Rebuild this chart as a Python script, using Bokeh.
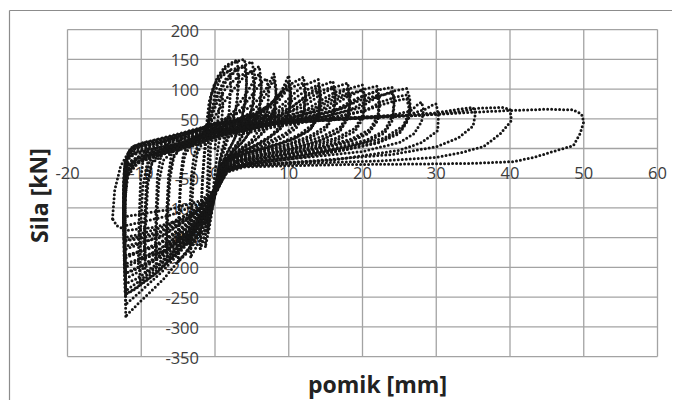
from bokeh.plotting import figure
from bokeh.models import ColumnDataSource, LabelSet
from bokeh.core.properties import value
from bokeh.embed import file_html
from bokeh.resources import INLINE

# axis ticks
x_ticks = [-20, -10, 0, 10, 20, 30, 40, 50, 60]
y_ticks = [-350, -300, -250, -200, -150, -100, -50, 0, 50, 100, 150, 200]
x_title = "pomik [mm]"
y_title = "Sila [kN]"

# hysteresis cycles: (displacement mm, force kN)
c01 = [(0, 0), (0.3, 40), (0.7, 80), (1.0, 95), (1.05, 70), (0.8, 30), (0.4, 0), (0.0, -40), (-0.4, -90),
       (-0.8, -125), (-1.0, -140)]
c02 = [(-1.0, -140), (-0.9, -90), (-0.7, -40), (-0.6, 0), (-0.6, 30), (-0.4, 60), (0.0, 95), (0.8, 120),
       (2.0, 132), (2.15, 105), (1.9, 60), (1.4, 20), (0.8, -10), (0.3, -45), (-0.2, -90), (-0.8, -135),
       (-1.3, -165)]
c03 = [(-1.3, -165), (-1.2, -110), (-1.0, -50), (-0.9, -5), (-0.9, 25), (-0.8, 55), (-0.5, 90), (0.3, 120),
       (1.5, 140), (3.0, 149), (3.2, 120), (3.0, 80), (2.4, 40), (1.6, 10), (0.9, -15), (0.4, -45),
       (-0.2, -90), (-1.0, -135), (-2.0, -168)]
c03b = [(-2.0, -168), (-1.9, -110), (-1.7, -55), (-1.5, -15), (-1.3, 15), (-1.1, 45), (-0.8, 78), (-0.2, 105),
        (1.0, 125), (2.2, 133), (3.0, 135), (3.2, 108), (2.9, 70), (2.2, 35), (1.4, 8), (0.7, -18),
        (0.2, -50), (-0.6, -100), (-1.4, -145), (-2.0, -168)]
c04 = [(-2.0, -168), (-1.9, -110), (-1.7, -50), (-1.4, -8), (-1.1, 22), (-0.9, 50), (-0.6, 85), (0.2, 115),
       (1.5, 136), (3.0, 147), (4.0, 150), (4.3, 125), (4.2, 90), (3.6, 50), (2.8, 20), (1.8, -5),
       (1.0, -25), (0.4, -55), (-0.3, -95), (-1.5, -140), (-2.5, -165), (-3.3, -182)]
c04b = [(-3.3, -182), (-3.2, -110), (-2.9, -45), (-2.4, -8), (-1.5, 15), (-0.9, 35), (-0.5, 60), (0.2, 90),
        (1.3, 115), (2.8, 132), (4.0, 138), (4.3, 112), (4.1, 75), (3.4, 38), (2.4, 10), (1.4, -12),
        (0.6, -35), (0.0, -75), (-1.0, -115), (-2.3, -145), (-3.5, -160)]
c05 = [(-3.5, -160), (-3.4, -100), (-3.2, -45), (-2.8, -8), (-1.8, 18), (-1.0, 40), (-0.4, 62), (0.4, 90),
       (1.6, 115), (3.2, 136), (5.0, 146), (5.4, 122), (5.3, 85), (4.6, 45), (3.6, 18), (2.5, -2),
       (1.3, -22), (0.5, -50), (-0.3, -95), (-1.8, -140), (-3.5, -172), (-5.0, -190)]
c05b = [(-5.0, -190), (-4.9, -115), (-4.6, -50), (-4.1, -12), (-3.0, 12), (-1.5, 30), (-0.6, 50), (0.3, 78),
        (1.5, 102), (3.2, 122), (5.0, 130), (5.3, 108), (5.1, 72), (4.3, 38), (3.2, 12), (2.0, -8),
        (1.0, -28), (0.3, -60), (-0.7, -105), (-2.5, -148), (-4.0, -176), (-5.0, -190)]
c06 = [(-5.0, -190), (-4.9, -120), (-4.7, -50), (-4.3, -10), (-3.3, 14), (-1.8, 32), (-0.3, 48), (0.8, 70),
       (2.2, 95), (4.0, 122), (6.0, 138), (6.3, 110), (6.1, 75), (5.3, 40), (4.0, 15), (2.5, -5),
       (1.2, -25), (0.4, -55), (-0.5, -95), (-2.5, -135), (-4.5, -165), (-6.5, -188)]
c06b = [(-6.5, -188), (-6.4, -110), (-6.1, -50), (-5.6, -15), (-4.5, 5), (-2.5, 20), (-0.5, 33), (1.0, 45),
        (2.5, 62), (4.0, 88), (5.2, 112), (6.0, 126), (6.3, 100), (6.1, 68), (5.2, 36), (3.8, 12),
        (2.2, -8), (1.0, -28), (0.3, -58), (-0.8, -100), (-3.0, -132), (-5.0, -152), (-6.6, -165)]
c06c = [(-6.6, -165), (-6.5, -95), (-6.2, -42), (-5.6, -12), (-4.2, 6), (-2.0, 22), (0.0, 36), (2.0, 50),
        (3.5, 66), (5.0, 90), (6.2, 110), (7.0, 118), (7.3, 95), (7.1, 64), (6.2, 34), (4.8, 12), (3.0, -4),
        (1.5, -20), (0.5, -45), (-0.5, -88), (-2.5, -125), (-4.8, -150), (-6.6, -165)]
c07 = [(-6.6, -165), (-6.5, -100), (-6.3, -45), (-5.9, -8), (-4.8, 14), (-3.0, 28), (-1.0, 38), (0.5, 46),
       (2.5, 56), (4.5, 68), (6.0, 84), (7.0, 102), (7.6, 116), (8.0, 126), (8.3, 100), (8.1, 70),
       (7.2, 40), (5.8, 18), (4.0, 2), (2.2, -12), (1.0, -28), (0.3, -60), (-0.8, -105), (-3.0, -145),
       (-5.5, -178), (-8.0, -200)]
c07b = [(-8.0, -200), (-7.9, -120), (-7.6, -55), (-7.0, -20), (-5.5, -2), (-3.0, 15), (0.0, 30), (2.5, 45),
        (4.5, 58), (6.0, 74), (7.0, 92), (7.6, 108), (8.0, 116), (8.3, 92), (8.1, 62), (7.0, 32),
        (5.3, 12), (3.5, -2), (1.8, -16), (0.8, -32), (0.1, -65), (-1.2, -110), (-3.5, -145),
        (-6.0, -168), (-8.1, -178)]
c08 = [(-8.1, -178), (-8.0, -110), (-7.8, -45), (-7.3, -10), (-6.3, 10), (-4.0, 24), (-2.0, 33), (0.0, 42),
       (3.0, 50), (5.5, 60), (7.5, 74), (9.0, 96), (9.6, 112), (10.0, 123), (10.3, 98), (10.1, 70),
       (9.2, 42), (7.6, 22), (5.5, 6), (3.0, -8), (1.3, -22), (0.4, -55), (-0.7, -100), (-3.0, -140),
       (-6.0, -178), (-9.5, -208)]
c08b = [(-9.5, -208), (-9.4, -125), (-9.1, -60), (-8.5, -22), (-7.0, -5), (-4.0, 12), (-1.0, 27), (2.0, 42),
        (4.5, 52), (6.5, 63), (8.3, 82), (9.5, 103), (10.0, 113), (10.3, 90), (10.1, 62), (9.0, 35),
        (7.2, 16), (5.0, 2), (2.6, -12), (1.1, -26), (0.2, -60), (-1.0, -105), (-3.5, -142), (-6.5, -170),
        (-9.6, -185)]
c08c = [(-9.6, -185), (-9.5, -110), (-9.2, -55), (-8.6, -25), (-7.0, -10), (-4.5, 5), (-1.5, 20), (1.5, 36),
        (4.0, 48), (6.5, 60), (8.5, 78), (9.6, 96), (10.0, 104), (10.3, 84), (10.0, 58), (8.8, 32),
        (6.8, 14), (4.5, 0), (2.2, -13), (0.9, -30), (0.0, -68), (-1.5, -110), (-4.0, -145), (-7.0, -172),
        (-9.6, -185)]
c09 = [(-9.6, -185), (-9.5, -115), (-9.3, -50), (-8.8, -10), (-7.8, 8), (-5.0, 20), (-2.0, 32), (0.0, 40),
       (3.0, 48), (5.5, 58), (7.5, 75), (9.0, 95), (10.5, 110), (12.0, 120), (12.3, 96), (12.1, 68),
       (11.2, 42), (9.5, 25), (7.0, 10), (4.0, -4), (1.6, -18), (0.5, -50), (-0.6, -100), (-3.0, -150),
       (-6.5, -192), (-10.2, -225)]
c09b = [(-10.2, -225), (-10.1, -140), (-9.8, -65), (-9.2, -25), (-7.5, -6), (-4.5, 10), (-1.5, 25),
        (2.0, 40), (4.5, 50), (6.5, 62), (8.0, 80), (9.5, 96), (11.0, 106), (12.0, 110), (12.3, 88),
        (12.1, 60), (11.0, 34), (9.0, 17), (6.5, 4), (3.5, -8), (1.3, -22), (0.3, -55), (-0.9, -105),
        (-3.5, -148), (-7.0, -182), (-10.4, -200)]
c10 = [(-10.4, -200), (-10.3, -125), (-10.1, -55), (-9.7, -15), (-8.8, 6), (-6.0, 18), (-3.0, 30), (0.0, 40),
       (4.0, 48), (7.0, 58), (9.0, 72), (10.5, 90), (12.0, 106), (14.0, 116), (14.3, 93), (14.1, 65),
       (13.2, 40), (11.5, 24), (9.0, 10), (5.5, -3), (2.0, -16), (0.6, -48), (-0.5, -100), (-3.0, -160),
       (-7.0, -220), (-10.5, -262), (-12.1, -282)]
c10b = [(-12.1, -282), (-12.2, -190), (-12.2, -100), (-12.0, -45), (-11.2, -20), (-9.0, -8), (-6.0, 4),
        (-3.0, 16), (0.0, 30), (4.0, 43), (7.0, 54), (9.0, 66), (10.8, 84), (12.5, 99), (14.0, 107),
        (14.3, 85), (14.1, 58), (13.0, 33), (11.0, 18), (8.0, 5), (4.5, -7), (1.8, -20), (0.4, -52),
        (-0.8, -100), (-3.5, -155), (-7.5, -205), (-10.8, -235), (-12.1, -245)]
c10c = [(-12.1, -245), (-12.2, -160), (-12.2, -85), (-11.8, -45), (-10.5, -25), (-8.0, -12), (-5.0, 0),
        (-2.0, 14), (0.0, 22), (4.0, 38), (7.5, 50), (9.8, 64), (11.5, 80), (13.0, 92), (14.0, 98),
        (14.3, 78), (14.0, 52), (12.8, 30), (10.5, 15), (7.5, 3), (4.0, -9), (1.6, -22), (0.2, -58),
        (-1.2, -105), (-4.0, -160), (-8.0, -210), (-11.0, -238), (-12.1, -245)]
c11 = [(-12.1, -245), (-12.2, -170), (-12.2, -90), (-12.1, -35), (-11.8, -8), (-11.2, 3), (-10.0, 9),
       (-7.0, 18), (-4.0, 28), (-1.0, 38), (0.0, 42), (4.0, 50), (8.0, 58), (10.5, 70), (12.2, 88),
       (14.0, 104), (16.0, 113), (16.3, 90), (16.1, 63), (15.1, 38), (13.0, 22), (10.0, 8), (6.0, -5),
       (2.2, -18), (0.7, -45), (-0.4, -95), (-3.0, -150), (-7.0, -205), (-10.5, -245), (-12.1, -262)]
c11b = [(-12.1, -262), (-12.2, -180), (-12.2, -95), (-12.0, -50), (-11.0, -25), (-8.5, -12), (-5.5, 0),
        (-2.5, 14), (0.0, 26), (4.0, 40), (8.0, 52), (10.5, 64), (12.5, 82), (14.3, 97), (16.0, 104),
        (16.3, 82), (16.1, 56), (15.0, 32), (12.8, 17), (9.5, 4), (5.5, -8), (2.0, -20), (0.5, -50),
        (-0.7, -98), (-3.5, -150), (-7.5, -195), (-10.8, -220), (-12.2, -228)]
c12 = [(-12.2, -228), (-12.3, -160), (-12.2, -85), (-12.1, -30), (-11.7, -5), (-11.0, 4), (-9.5, 10),
       (-6.0, 20), (-3.0, 30), (0.0, 41), (5.0, 49), (9.0, 57), (12.0, 70), (14.0, 88), (16.0, 102),
       (18.0, 110), (18.3, 88), (18.1, 60), (17.0, 36), (14.5, 20), (11.0, 6), (7.0, -6), (2.5, -18),
       (0.8, -40), (-0.3, -88), (-3.0, -140), (-7.0, -190), (-10.5, -225), (-12.2, -240)]
c12b = [(-12.2, -240), (-12.3, -165), (-12.3, -85), (-12.0, -40), (-10.8, -18), (-8.0, -8), (-5.0, 4),
        (-2.0, 18), (0.0, 27), (5.0, 41), (9.5, 52), (12.5, 66), (14.5, 82), (16.3, 95), (18.0, 101),
        (18.3, 80), (18.1, 54), (17.0, 30), (14.5, 15), (11.0, 2), (6.5, -10), (2.4, -21), (0.6, -46),
        (-0.6, -92), (-3.5, -140), (-7.5, -180), (-10.8, -202), (-12.2, -210)]
c12c = [(-12.2, -210), (-12.3, -140), (-12.3, -70), (-11.8, -38), (-10.0, -20), (-7.0, -9), (-4.0, 3),
        (-1.0, 16), (0.0, 20), (5.0, 37), (10.0, 50), (13.0, 62), (15.0, 76), (16.7, 87), (18.0, 93),
        (18.3, 74), (18.0, 50), (16.8, 28), (14.2, 13), (10.5, 0), (6.0, -11), (2.2, -22), (0.4, -50),
        (-1.0, -98), (-4.0, -145), (-8.0, -185), (-11.0, -205), (-12.2, -210)]
c13 = [(-12.2, -210), (-12.3, -145), (-12.3, -70), (-12.2, -25), (-11.6, -3), (-10.5, 5), (-8.0, 12),
       (-5.0, 22), (-2.0, 33), (0.0, 40), (5.0, 48), (10.0, 56), (13.5, 68), (15.8, 86), (18.0, 100),
       (20.0, 107), (20.3, 85), (20.1, 58), (19.0, 34), (16.5, 18), (12.5, 4), (8.0, -8), (3.0, -20),
       (1.0, -38), (-0.2, -82), (-3.0, -132), (-7.0, -178), (-10.5, -208), (-12.2, -220)]
c13b = [(-12.2, -220), (-12.3, -150), (-12.3, -75), (-12.0, -35), (-10.5, -15), (-7.5, -5), (-4.5, 6),
        (-1.5, 20), (0.0, 26), (6.0, 42), (11.0, 54), (14.5, 66), (16.5, 82), (18.3, 93), (20.0, 98),
        (20.3, 78), (20.1, 52), (19.0, 29), (16.5, 14), (12.5, 1), (7.5, -11), (2.8, -22), (0.8, -44),
        (-0.4, -88), (-3.5, -132), (-7.5, -170), (-10.8, -188), (-12.3, -195)]
c14 = [(-12.3, -195), (-12.3, -135), (-12.3, -65), (-12.2, -22), (-11.5, -4), (-10.0, 4), (-7.0, 12),
       (-4.0, 22), (-1.0, 34), (0.0, 38), (6.0, 47), (12.0, 56), (15.5, 68), (17.8, 86), (20.0, 99),
       (22.0, 105), (22.3, 83), (22.1, 56), (21.0, 32), (18.5, 16), (14.0, 2), (9.0, -10), (3.5, -21),
       (1.2, -36), (0.0, -78), (-3.0, -125), (-7.0, -165), (-10.5, -190), (-12.2, -200)]
c14b = [(-12.2, -200), (-12.3, -140), (-12.3, -70), (-12.0, -32), (-10.3, -14), (-7.0, -4), (-4.0, 7),
        (-1.0, 20), (0.0, 24), (7.0, 42), (13.0, 54), (16.5, 66), (18.5, 80), (20.3, 90), (22.0, 96),
        (22.3, 76), (22.1, 50), (21.0, 28), (18.5, 13), (14.0, 0), (8.5, -12), (3.2, -23), (1.0, -42),
        (-0.2, -84), (-3.5, -125), (-7.5, -160), (-10.8, -175), (-12.3, -180)]
c14c = [(-12.3, -180), (-12.4, -120), (-12.3, -60), (-11.8, -32), (-9.5, -16), (-6.0, -6), (-3.0, 6),
        (0.0, 18), (6.0, 36), (12.0, 50), (16.0, 62), (18.5, 75), (20.3, 84), (22.0, 89), (22.3, 70),
        (22.0, 46), (20.8, 25), (18.2, 11), (13.5, -2), (8.0, -14), (3.0, -24), (0.8, -46), (-0.8, -92),
        (-4.0, -132), (-8.0, -165), (-11.0, -177), (-12.3, -180)]
c15 = [(-12.3, -180), (-12.3, -125), (-12.3, -60), (-12.1, -20), (-11.3, -6), (-9.0, 2), (-6.0, 10),
       (-3.0, 20), (0.0, 34), (7.0, 46), (13.0, 55), (17.5, 68), (19.8, 86), (22.0, 98), (24.0, 103),
       (24.3, 82), (24.1, 56), (23.0, 30), (20.5, 14), (16.0, 0), (10.0, -12), (4.0, -23), (1.4, -35),
       (0.2, -72), (-3.0, -118), (-7.0, -155), (-10.5, -175), (-12.3, -185)]
c15b = [(-12.3, -185), (-12.4, -125), (-12.3, -60), (-12.0, -28), (-10.0, -12), (-6.5, -3), (-3.5, 8),
        (-0.5, 20), (0.0, 22), (8.0, 42), (15.0, 54), (18.5, 66), (20.5, 80), (22.3, 89), (24.0, 94),
        (24.3, 74), (24.1, 48), (23.0, 26), (20.5, 11), (16.0, -2), (10.0, -14), (3.8, -24), (1.2, -40),
        (0.0, -80), (-3.5, -118), (-7.5, -150), (-10.8, -160), (-12.3, -165)]
c16 = [(-12.3, -165), (-12.4, -115), (-12.4, -55), (-12.2, -22), (-11.5, -10), (-9.0, -2), (-6.0, 6),
       (-3.0, 16), (0.0, 30), (8.0, 44), (15.0, 54), (19.5, 68), (21.8, 85), (24.0, 96), (26.0, 101),
       (26.4, 85), (26.5, 64), (25.5, 38), (23.0, 18), (18.0, 2), (12.0, -12), (5.0, -24), (1.6, -34),
       (0.3, -68), (-3.0, -112), (-7.0, -145), (-10.5, -162), (-12.3, -170)]
c16b = [(-12.3, -170), (-12.4, -115), (-12.3, -55), (-12.0, -25), (-10.0, -11), (-6.0, -2), (-3.0, 8),
        (0.0, 20), (9.0, 41), (16.0, 52), (20.5, 65), (22.5, 78), (24.3, 86), (26.0, 90), (26.4, 74),
        (26.3, 52), (25.2, 30), (22.5, 12), (17.5, -2), (11.0, -15), (4.5, -25), (1.5, -38), (0.2, -74),
        (-3.5, -110), (-7.5, -140), (-10.8, -150), (-12.3, -155)]
c16c = [(-12.3, -155), (-12.4, -105), (-12.3, -50), (-11.8, -28), (-9.0, -13), (-5.0, -3), (-2.0, 8),
        (0.0, 15), (8.0, 36), (15.0, 50), (20.0, 62), (22.5, 73), (24.3, 80), (26.0, 84), (26.3, 68),
        (26.1, 46), (25.0, 25), (22.0, 9), (17.0, -4), (10.5, -17), (4.0, -27), (1.2, -42), (-0.2, -84),
        (-4.0, -120), (-8.0, -145), (-11.0, -153), (-12.3, -155)]
c17 = [(-12.3, -155), (-12.4, -105), (-12.3, -50), (-12.0, -20), (-11.0, -10), (-8.0, -3), (-4.0, 8),
       (0.0, 26), (8.0, 42), (16.0, 50), (24.0, 56), (26.5, 63), (27.5, 74), (28.0, 78), (28.3, 65),
       (28.0, 45), (27.0, 25), (25.0, 10), (20.0, -5), (10.0, -18), (4.0, -27), (1.8, -36), (0.4, -66),
       (-3.0, -105), (-7.0, -132), (-10.5, -145), (-12.3, -150)]
c18 = [(-12.3, -150), (-12.4, -100), (-12.3, -45), (-11.8, -15), (-10.5, -5), (-7.0, 3), (-3.0, 14),
       (0.0, 28), (8.0, 42), (18.0, 50), (26.0, 56), (28.5, 66), (29.5, 73), (30.0, 75), (30.3, 55),
       (30.2, 30), (28.0, 10), (25.0, -3), (15.7, -20), (5.0, -28), (2.0, -33), (0.5, -62), (-1.5, -95),
       (-4.0, -118), (-8.0, -132), (-12.0, -138), (-13.3, -130), (-13.9, -118)]
c19 = [(-13.9, -118), (-13.6, -70), (-12.8, -30), (-11.8, -8), (-10.5, 3), (-7.0, 12), (-3.0, 24),
       (0.0, 38), (8.0, 46), (18.0, 52), (26.0, 56), (30.0, 60), (33.0, 66), (35.0, 69), (35.3, 58),
       (35.0, 38), (33.0, 18), (30.0, 3), (24.0, -10), (14.0, -20), (5.0, -27), (2.0, -32), (0.6, -60),
       (-2.0, -92), (-6.0, -112), (-10.0, -124), (-12.3, -130)]
c20 = [(-12.3, -130), (-12.4, -85), (-12.3, -40), (-11.9, -12), (-11.0, 0), (-8.0, 8), (-4.0, 18),
       (0.0, 30), (8.0, 42), (18.0, 50), (28.0, 56), (33.0, 62), (36.0, 68), (39.0, 69), (40.0, 66),
       (40.2, 47), (38.7, 25), (36.4, 3), (33.0, -8), (30.0, -15), (22.0, -21), (12.0, -25), (4.0, -29),
       (1.5, -38), (0.4, -65), (-2.0, -88), (-6.0, -102), (-10.0, -110), (-12.3, -115)]
c21 = [(-12.3, -115), (-12.4, -75), (-12.3, -35), (-11.8, -10), (-10.8, 2), (-8.0, 9), (-4.0, 18),
       (0.0, 30), (8.0, 42), (18.0, 50), (28.0, 56), (35.0, 61), (40.0, 64), (45.0, 66), (48.5, 65),
       (49.7, 58), (50.0, 45), (49.5, 25), (48.6, 5), (46.4, -3), (43.2, -15), (40.5, -22), (35.0, -25),
       (28.0, -26), (18.0, -27), (10.0, -29), (4.0, -31), (1.5, -40), (0.3, -70)]

cycles = [c01, c02, c03, c03b, c04, c04b, c05, c05b, c06, c06b, c06c, c07, c07b, c08, c08b, c08c,
          c09, c09b, c10, c10b, c10c, c11, c11b, c12, c12b, c12c, c13, c13b, c14, c14b, c14c,
          c15, c15b, c16, c16b, c16c, c17, c18, c19, c20, c21]

# ---- layout / style (pixel geometry of the reference) ----
W, H = 672, 400          # canvas; the frame fills the whole canvas
PX0, PY0 = 214.5, 148.0  # page pixel of data origin
SX, SY = 7.375, 0.5945   # pixels per data unit
GRID = "#a3a3a3"
FONT = "Open Sans"
DOT = "#161616"


def dx(px):
    return (px - PX0) / SX


def dy(py):
    return (PY0 - py) / SY


p = figure(width=W, height=H, x_range=(dx(0), dx(W)), y_range=(dy(H), dy(0)),
           x_axis_location=None, y_axis_location=None,
           output_backend="svg", toolbar_location=None,
           min_border_left=0, min_border_right=0, min_border_top=0, min_border_bottom=0)
p.background_fill_color = "white"
p.border_fill_color = "white"
p.outline_line_color = None
p.xgrid.visible = False
p.ygrid.visible = False

xlo, xhi = min(x_ticks), max(x_ticks)
ylo, yhi = min(y_ticks), max(y_ticks)

# outer chart-area border (left and top edges)
p.segment(x0=[dx(9), dx(9)], y0=[dy(10), dy(10)], x1=[dx(9), dx(W + 20)], y1=[dy(H + 20), dy(10)],
          line_color="#8c8c8c", line_width=1.2, level="image")
# plot-area grid
p.segment(x0=x_ticks, y0=[ylo] * len(x_ticks), x1=x_ticks, y1=[yhi] * len(x_ticks),
          line_color=GRID, line_width=1.3, level="image")
p.segment(x0=[xlo] * len(y_ticks), y0=y_ticks, x1=[xhi] * len(y_ticks), y1=y_ticks,
          line_color=GRID, line_width=1.3, level="image")

xsrc = ColumnDataSource(dict(x=x_ticks, y=[0] * len(x_ticks), t=[str(v) for v in x_ticks]))
ysrc = ColumnDataSource(dict(x=[0] * len(y_ticks), y=y_ticks, t=[str(v) for v in y_ticks]))
p.add_layout(LabelSet(x="x", y="y", text="t", source=xsrc, text_align="center", text_baseline="middle",
                      y_offset=-24, text_font=value(FONT), text_font_size="16.5px", text_color="#3c3c3c",
                      level="underlay"))
p.add_layout(LabelSet(x="x", y="y", text="t", source=ysrc, text_align="right", text_baseline="middle",
                      x_offset=-16, y_offset=-1, text_font=value(FONT), text_font_size="16.5px",
                      text_color="#3c3c3c", level="underlay"))

for cyc in cycles:
    xs = [pt[0] for pt in cyc]
    ys = [pt[1] for pt in cyc]
    p.line(xs, ys, line_color=DOT, line_width=3.0, line_dash="0 4", line_cap="round", line_join="round")

p.text(x=[dx(377)], y=[dy(383)], text=[x_title], text_align="center", text_baseline="middle",
       text_font=value(FONT), text_font_style="bold", text_font_size="23px", text_color="#222222")
p.text(x=[dx(38)], y=[dy(195)], text=[y_title], text_align="center", text_baseline="middle", angle=1.5708,
       text_font=value(FONT), text_font_style="bold", text_font_size="23px", text_color="#222222")

open("out.html", "w").write(file_html(p, INLINE))
